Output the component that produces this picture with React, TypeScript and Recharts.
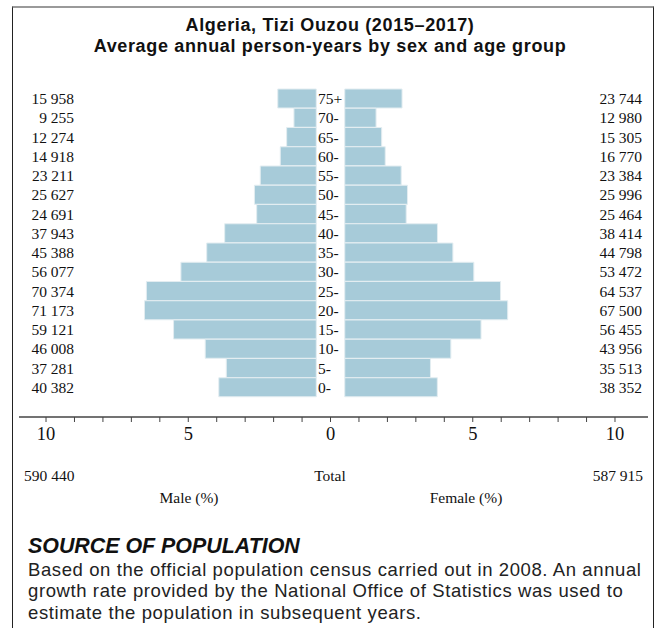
import { BarChart, Bar, XAxis, YAxis } from "recharts";

// Age groups, top of the pyramid first
const AGES = ["75+", "70-", "65-", "60-", "55-", "50-", "45-", "40-", "35-", "30-", "25-", "20-", "15-", "10-", "5-", "0-"];

// Average annual person-years
const MALE = [15958, 9255, 12274, 14918, 23211, 25627, 24691, 37943, 45388, 56077, 70374, 71173, 59121, 46008, 37281, 40382];
const FEMALE = [23744, 12980, 15305, 16770, 23384, 25996, 25464, 38414, 44798, 53472, 64537, 67500, 56455, 43956, 35513, 38352];

const MALE_TOTAL = 590440;
const FEMALE_TOTAL = 587915;

const X_TICKS = [-10, -9, -8, -7, -6, -5, -4, -3, -2, -1, 0, 1, 2, 3, 4, 5, 6, 7, 8, 9, 10];

// half of the white gap around the age labels, in % units
const GAP = 0.5;

const GRAND_TOTAL = MALE_TOTAL + FEMALE_TOTAL;

const rows = AGES.map((age, i) => ({
  age,
  male: MALE[i],
  female: FEMALE[i],
  malePct: -(MALE[i] / GRAND_TOTAL) * 100,
  femalePct: (FEMALE[i] / GRAND_TOTAL) * 100,
}));

function fmt(n: number) {
  return String(n).replace(/\B(?=(\d{3})+(?!\d))/g, " ");
}

const SERIF = '"Liberation Serif", "Times New Roman", serif';
const SANS = '"Liberation Sans", Arial, sans-serif';
const BAR_FILL = "#a7cbd9";
const BAR_EDGE = "#e3edf1";

// one tick per row: male count, age group and female count
function renderRowTick(props: any) {
  const { y, payload } = props;
  const row = rows.find((r) => r.age === payload.value);
  if (!row) return <g />;
  const common = { fontFamily: SERIF, fontSize: 15.5, fill: "#111", dy: "0.35em" };
  return (
    <g>
      <text x={74} y={y} textAnchor="end" {...common}>
        {fmt(row.male)}
      </text>
      <text x={318} y={y} textAnchor="start" {...common}>
        {row.age}
      </text>
      <text x={642} y={y} textAnchor="end" {...common}>
        {fmt(row.female)}
      </text>
    </g>
  );
}

export default function App() {
  return (
    <div style={{ position: "absolute", left: 0, top: 0, width: 657, height: 628, background: "#fff", overflow: "hidden" }}>
      {/* frame */}
      <div
        style={{
          position: "absolute",
          left: 12,
          top: 6,
          width: 640,
          height: 640,
          borderTop: "2px solid #9a9a9a",
          borderLeft: "1.5px solid #222",
          borderRight: "1.5px solid #222",
        }}
      />
      <div
        style={{
          position: "absolute",
          left: 0,
          top: 15,
          width: 660,
          textAlign: "center",
          fontFamily: SANS,
          fontWeight: 700,
          fontSize: 18,
          letterSpacing: 0.65,
          lineHeight: "21px",
          color: "#111",
        }}
      >
        <div>Algeria, Tizi Ouzou (2015–2017)</div>
        <div>Average annual person-years by sex and age group</div>
      </div>

      <div style={{ position: "absolute", left: 0, top: 0 }}>
        <BarChart
          width={657}
          height={460}
          data={rows}
          layout="vertical"
          stackOffset="sign"
          barCategoryGap={0}
          margin={{ top: 89, right: 9, bottom: 13, left: 18 }}
        >
          <XAxis
            type="number"
            domain={[-10.95, 11.16]}
            ticks={X_TICKS}
            interval={0}
            tickFormatter={(v: number) => (v % 5 === 0 ? String(Math.abs(v)) : "")}
            axisLine={{ stroke: "#444", strokeWidth: 1.5 }}
            tickLine={{ stroke: "#444" }}
            tickSize={5}
            tickMargin={5}
            height={30}
            tick={{ fontFamily: SERIF, fontSize: 18.5, fill: "#111" }}
          />
          <YAxis
            type="category"
            dataKey="age"
            width={1}
            axisLine={false}
            tickLine={false}
            interval={0}
            padding={{ top: 0, bottom: 20 }}
            tick={renderRowTick}
          />
          <Bar dataKey={() => -GAP} stackId="p" fill="transparent" isAnimationActive={false} />
          <Bar dataKey="malePct" stackId="p" fill={BAR_FILL} stroke={BAR_EDGE} strokeWidth={1} isAnimationActive={false} />
          <Bar dataKey={() => GAP} stackId="p" fill="transparent" isAnimationActive={false} />
          <Bar dataKey="femalePct" stackId="p" fill={BAR_FILL} stroke={BAR_EDGE} strokeWidth={1} isAnimationActive={false} />
        </BarChart>
      </div>

      {/* totals and axis titles */}
      <div style={{ position: "absolute", left: 0, top: 466, width: 657, fontFamily: SERIF, fontSize: 15.5, lineHeight: "20px", color: "#111" }}>
        <div style={{ position: "absolute", left: 24 }}>{fmt(MALE_TOTAL)}</div>
        <div style={{ position: "absolute", left: 230, width: 200, textAlign: "center" }}>Total</div>
        <div style={{ position: "absolute", right: 657 - 643 }}>{fmt(FEMALE_TOTAL)}</div>
        <div style={{ position: "absolute", left: 89, top: 22, width: 200, textAlign: "center" }}>Male (%)</div>
        <div style={{ position: "absolute", left: 366, top: 22, width: 200, textAlign: "center" }}>Female (%)</div>
      </div>

      {/* source note */}
      <div style={{ position: "absolute", left: 28, top: 534, fontFamily: SANS, color: "#111", whiteSpace: "nowrap" }}>
        <div style={{ fontSize: 21.4, lineHeight: "24px", fontWeight: 700, fontStyle: "italic" }}>SOURCE OF POPULATION</div>
        <div style={{ fontSize: 18.5, letterSpacing: 0.6, lineHeight: "21.5px", marginTop: 0.5, color: "#222" }}>
          Based on the official population census carried out in 2008. An annual
          <br />
          growth rate provided by the National Office of Statistics was used to
          <br />
          estimate the population in subsequent years.
        </div>
      </div>
    </div>
  );
}
